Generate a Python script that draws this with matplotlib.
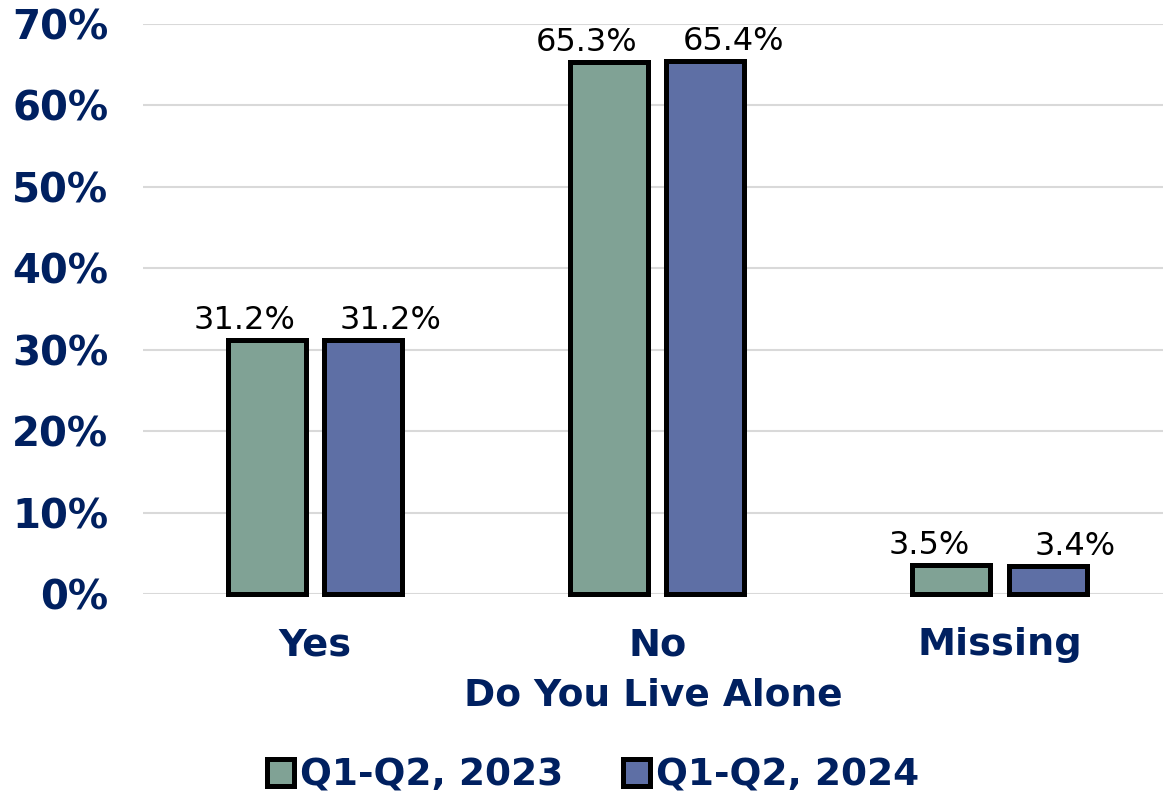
import matplotlib.pyplot as plt
import numpy as np

categories = ["Yes", "No", "Missing"]
series_names = ["Q1-Q2, 2023", "Q1-Q2, 2024"]
values_2023 = [31.2, 65.3, 3.5]
values_2024 = [31.2, 65.4, 3.4]
y_ticks = [0, 10, 20, 30, 40, 50, 60, 70]

navy = "#002060"
colors = ["#80A295", "#5E6FA5"]

plt.rcParams['font.family'] = ['DejaVu Sans']

fig = plt.figure(figsize=(11.63, 7.92), dpi=100)
ax = fig.add_axes([0.123, 0.25, 0.877, 0.7197])

x = np.arange(len(categories))
width = 0.228
offset = 0.141

for i, (vals, name) in enumerate(zip([values_2023, values_2024], series_names)):
    pos = x + (-offset if i == 0 else offset)
    bars = ax.bar(pos, vals, width, color=colors[i], edgecolor="black",
                  linewidth=3.6, label=name, zorder=3, clip_on=False)
    shift = -16 if i == 0 else 20
    for b, v in zip(bars, vals):
        ax.annotate(f"{v:.1f}%", (b.get_x() + b.get_width() / 2, v),
                    xytext=(shift, 3), textcoords="offset points",
                    ha="center", va="bottom", fontsize=23, color="black")

ax.set_xlim(-0.502, 2.478)
ax.set_ylim(0, 70)
ax.set_yticks(y_ticks)
ax.set_yticklabels([f"{t}%" for t in y_ticks])
ax.set_xticks(x)
ax.set_xticklabels(categories)

ax.grid(axis="y", color="#D9D9D9", linewidth=1.5, zorder=0)
ax.set_axisbelow(True)
for s in ax.spines.values():
    s.set_visible(False)

ax.tick_params(axis="y", length=0, pad=25, labelsize=29, labelcolor=navy)
ax.tick_params(axis="x", length=0, pad=24, labelsize=27.5, labelcolor=navy)
for lbl in ax.get_xticklabels() + ax.get_yticklabels():
    lbl.set_fontweight("bold")

ax.set_xlabel("Do You Live Alone", fontsize=27, fontweight="bold",
              color=navy, labelpad=10)

leg = fig.legend(loc="lower center", bbox_to_anchor=(0.51, -0.045), ncol=2,
                 frameon=False, handlelength=0.72, handleheight=0.72,
                 handletextpad=0.15, columnspacing=1.6,
                 prop={"size": 27, "weight": "bold"})
for t in leg.get_texts():
    t.set_color(navy)
for h in leg.legend_handles:
    h.set_linewidth(3.6)

fig.savefig("out.png", dpi=100)
